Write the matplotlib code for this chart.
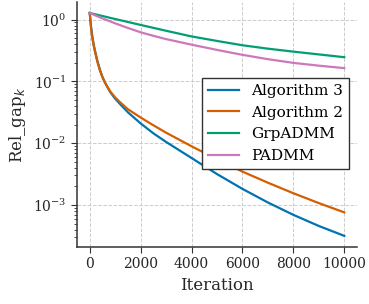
import numpy as np
import matplotlib
matplotlib.use("Agg")
import matplotlib.pyplot as plt

iterations = [0, 50, 100, 150, 200, 300, 400, 500, 600, 800, 1000, 1200, 1500,
              2000, 2500, 3000, 4000, 5000, 6000, 7000, 8000, 9000, 10000]
# log10 of Rel_gap_k
alg3_log = [0.108, -0.11, -0.27, -0.39, -0.49, -0.67, -0.81, -0.93, -1.02, -1.17, -1.28,
            -1.37, -1.50, -1.68, -1.84, -1.98, -2.24, -2.50, -2.74, -2.96, -3.16, -3.34, -3.50]
alg2_log = [0.108, -0.13, -0.29, -0.41, -0.51, -0.68, -0.82, -0.93, -1.02, -1.16, -1.26,
            -1.34, -1.45, -1.585, -1.71, -1.83, -2.05, -2.26, -2.46, -2.64, -2.81, -2.97, -3.12]
grp_log = [0.108, 0.103, 0.098, 0.093, 0.088, 0.078, 0.068, 0.059, 0.049, 0.029, 0.01,
           -0.009, -0.038, -0.086, -0.133, -0.18, -0.272, -0.345, -0.415, -0.47, -0.518, -0.563, -0.608]
pad_log = [0.108, 0.099, 0.09, 0.081, 0.072, 0.055, 0.037, 0.02, 0.004, -0.028, -0.06,
           -0.09, -0.135, -0.205, -0.262, -0.315, -0.405, -0.49, -0.57, -0.64, -0.70, -0.745, -0.785]

series_names = ["Algorithm 3", "Algorithm 2", "GrpADMM", "PADMM"]
series_logs = [alg3_log, alg2_log, grp_log, pad_log]
colors = ["#0173b2", "#d55e00", "#029e73", "#cc78bc"]

plt.rcParams['font.family'] = ['DejaVu Serif']
fig = plt.figure(figsize=(3.69, 3.04), dpi=100)
ax = fig.add_axes([0.2087, 0.1875, 0.7588, 0.8065])

for name, lg, c in zip(series_names, series_logs, colors):
    ax.plot(iterations, 10 ** np.array(lg), color=c, lw=1.6, label=name)

ax.set_yscale('log')
ax.set_xticks([0, 2000, 4000, 6000, 8000, 10000])
ax.grid(True, which='major', linestyle='--', color='#cccccc', lw=0.7)
for s in ['top', 'right']:
    ax.spines[s].set_visible(False)
for s in ['left', 'bottom']:
    ax.spines[s].set_color('#333333')
    ax.spines[s].set_linewidth(1.1)
ax.tick_params(axis='both', which='major', labelsize=10, colors='#333333', labelcolor='#262626', length=4)
ax.tick_params(axis='y', which='minor', colors='#333333', length=2.5)
ax.set_xlabel('Iteration', fontsize=12, color='#262626')
ax.set_ylabel(r'Rel_gap$_k$', fontsize=12, color='#262626')
leg = ax.legend(loc='center right', fontsize=11, fancybox=False, edgecolor='#333333',
                framealpha=1, bbox_to_anchor=(1.0, 0.504))
leg.get_frame().set_linewidth(1.0)
fig.savefig('out.png', dpi=100)
